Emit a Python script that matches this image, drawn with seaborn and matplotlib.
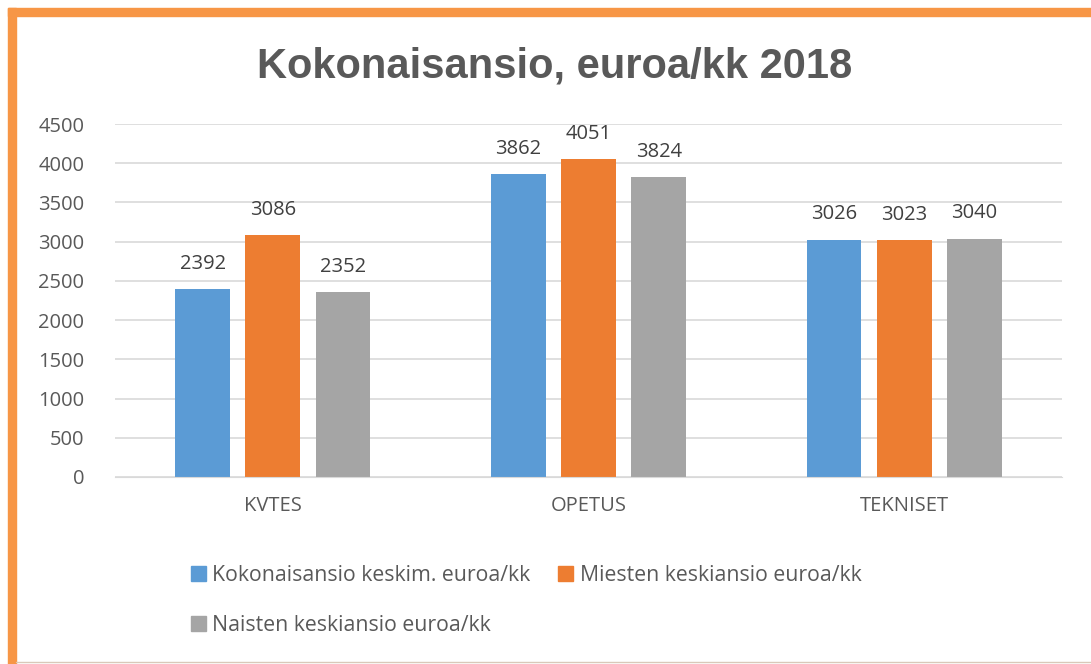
import numpy as np
import pandas as pd
import matplotlib.pyplot as plt
import matplotlib.patches as mpatches
import seaborn as sns

# data
categories = ["KVTES", "OPETUS", "TEKNISET"]
series = ["Kokonaisansio keskim. euroa/kk",
          "Miesten keskiansio euroa/kk",
          "Naisten keskiansio euroa/kk"]
kokonais = [2392, 3862, 3026]
miehet = [3086, 4051, 3023]
naiset = [2352, 3824, 3040]

colors = ["#5B9BD5", "#ED7D31", "#A5A5A5"]

df = pd.DataFrame({
    "Ala": categories * 3,
    "Sarja": [series[0]] * 3 + [series[1]] * 3 + [series[2]] * 3,
    "Arvo": kokonais + miehet + naiset,
})

sns.set_style("white")
plt.rcParams["font.family"] = ["Open Sans", "DejaVu Sans"]

fig = plt.figure(figsize=(10.91, 6.64), dpi=100)
ax = fig.add_axes([115 / 1091, 1 - 477 / 664, (1062 - 115) / 1091, (477 - 124) / 664])

sns.barplot(data=df, x="Ala", y="Arvo", hue="Sarja", palette=colors,
            width=0.667, gap=0.22, ax=ax, legend=False, saturation=1,
            linewidth=0)

for cont in ax.containers:
    ax.bar_label(cont, fmt="%d", padding=11, fontsize=14.5, color="#404040")

ax.set_ylim(0, 4500)
ax.set_yticks(range(0, 4501, 500))
ax.grid(axis="y", color="#D9D9D9", linewidth=1.2)
ax.set_axisbelow(True)
for s in ["top", "right", "left"]:
    ax.spines[s].set_visible(False)
ax.spines["bottom"].set_color("#D9D9D9")
ax.tick_params(axis="both", length=0, labelsize=14.5, colors="#595959")
ax.tick_params(axis="x", pad=14)
ax.tick_params(axis="y", pad=22)
ax.set_xlabel("")
ax.set_ylabel("")

fig.text(555 / 1091, 1 - 66 / 664, "Kokonaisansio, euroa/kk 2018",
         ha="center", va="center", fontsize=30, fontweight="bold",
         color="#595959", family=["Liberation Sans", "DejaVu Sans"])

handles = [mpatches.Patch(color=c) for c in colors]
order = [0, 2, 1]
fig.legend([handles[i] for i in order], [series[i] for i in order],
           ncol=2, loc="upper left", bbox_to_anchor=(172 / 1091, 1 - 546 / 664),
           frameon=False, fontsize=15.3, labelcolor="#595959",
           handlelength=0.7, handleheight=0.7, handletextpad=0.3,
           columnspacing=1.3, labelspacing=1.35)

# orange frame (top and left edges)
fig.patches.append(mpatches.Rectangle((8 / 1091, 0), 8 / 1091, 1 - 8 / 664,
                                      transform=fig.transFigure, color="#F79646"))
fig.patches.append(mpatches.Rectangle((8 / 1091, 1 - 16 / 664), 1 - 8 / 1091, 8 / 664,
                                      transform=fig.transFigure, color="#F79646"))
fig.lines.append(plt.Line2D([16 / 1091, 1], [2 / 664, 2 / 664],
                            transform=fig.transFigure, color="#D9C9B9", linewidth=1))

fig.savefig("out.png", dpi=100)
